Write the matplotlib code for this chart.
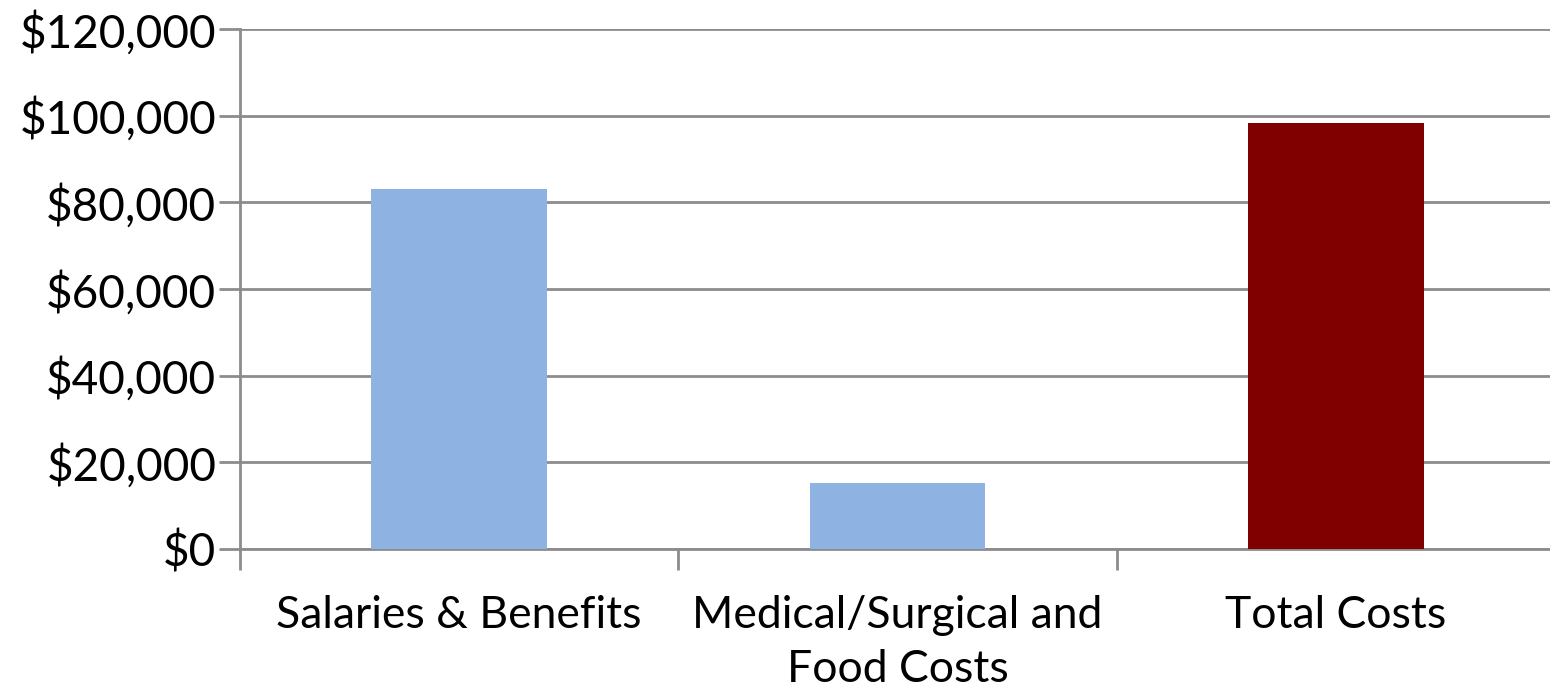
import matplotlib.pyplot as plt
from matplotlib.ticker import FuncFormatter, FixedLocator

# Cost breakdown values
categories = ['Salaries & Benefits', 'Medical/Surgical and\nFood Costs', 'Total Costs']
costs = [83100, 15300, 98400]
colors = ['#8eb3e2', '#8eb3e2', '#800000']

plt.rcParams['font.family'] = ['Lato', 'DejaVu Sans']

fig = plt.figure(figsize=(15.5, 6.89), dpi=100)
ax = fig.add_axes([240 / 1550, 140 / 689, 1315 / 1550, 520 / 689])

x = list(range(len(categories)))
ax.bar(x, costs, width=0.40, color=colors, zorder=3)

ax.set_xlim(-0.5, len(categories) - 0.5)
ax.set_ylim(0, 120000)
ax.set_yticks(range(0, 120001, 20000))
ax.yaxis.set_major_formatter(FuncFormatter(lambda v, p: f'${v:,.0f}'))

ax.set_xticks(x)
ax.set_xticklabels(categories, linespacing=1.4)
ax.xaxis.set_minor_locator(FixedLocator([i - 0.5 for i in range(len(categories) + 1)]))

grid_col = '#8c8c8c'
ax.grid(axis='y', color=grid_col, linewidth=2, zorder=0)
for side in ['top', 'right']:
    ax.spines[side].set_visible(False)
for side in ['left', 'bottom']:
    ax.spines[side].set_color(grid_col)
    ax.spines[side].set_linewidth(2)

ax.tick_params(axis='y', length=15, width=2, color=grid_col, labelsize=33, pad=2)
ax.tick_params(axis='x', which='major', length=0, labelsize=32, pad=33)
ax.tick_params(axis='x', which='minor', length=15, width=2, color=grid_col)

fig.savefig('out.png', dpi=100)
